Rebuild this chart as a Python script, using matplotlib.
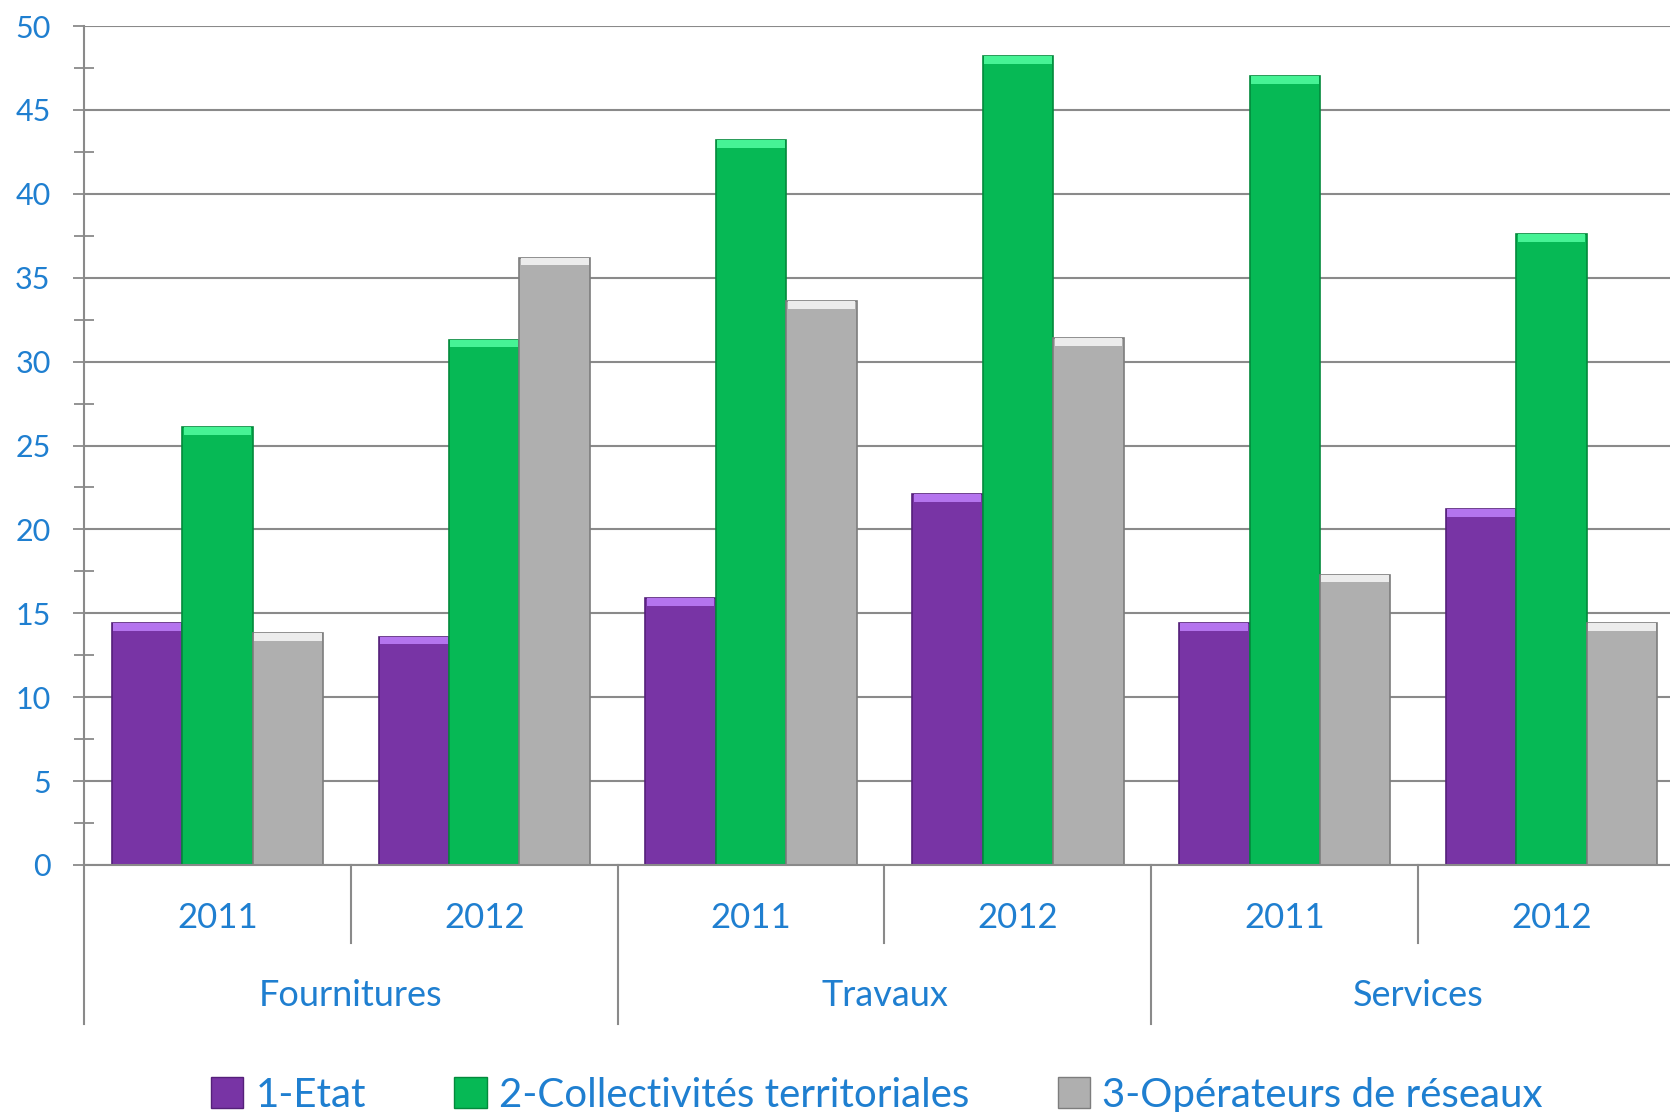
import numpy as np
import matplotlib
matplotlib.use("Agg")
import matplotlib.pyplot as plt
import matplotlib.transforms as mtransforms
from matplotlib.patches import Patch

plt.rcParams['font.family'] = ['Lato', 'DejaVu Sans']

# data
categories = ["Fournitures", "Travaux", "Services"]
years = ["2011", "2012"]
series = ["1-Etat", "2-Collectivités territoriales", "3-Opérateurs de réseaux"]
etat = [14.4, 13.6, 15.9, 22.1, 14.4, 21.2]
collectivites = [26.1, 31.3, 43.2, 48.2, 47.0, 37.6]
operateurs = [13.8, 36.2, 33.6, 31.4, 17.3, 14.4]

colors = ["#7834a5", "#06b955", "#afafaf"]
tops = ["#b474ee", "#46f395", "#ececec"]
edges = ["#55207a", "#038a3c", "#7d7d7d"]
blue = "#1f7fd0"
grey = "#8a8a8a"

fig = plt.figure(figsize=(16.7, 11.12), dpi=100)
ax = fig.add_axes([84 / 1670, 1 - 865 / 1112, (1685 - 84) / 1670, (865 - 26) / 1112])

x = np.arange(len(etat))
w = 0.264
for k, vals in enumerate([etat, collectivites, operateurs]):
    xs = x + (k - 1) * w
    vals = np.array(vals)
    ax.bar(xs, vals, w, color=colors[k], edgecolor=edges[k], linewidth=1.2, zorder=3)
    # bevel highlight on top
    ax.bar(xs, 0.45, w * 0.96, bottom=vals - 0.45, color=tops[k], linewidth=0, zorder=4)

ax.set_xlim(-0.5, 5.5)
ax.set_ylim(0, 50)
ax.set_yticks(np.arange(0, 51, 5))
ax.set_yticks(np.arange(2.5, 50, 5), minor=True)
ax.yaxis.grid(True, which='major', color=grey, linewidth=1.5, zorder=0)
ax.set_axisbelow(True)
ax.tick_params(axis='y', which='major', direction='out', length=8, width=1.3,
               color=grey, labelcolor=blue, labelsize=22, pad=16)
ax.tick_params(axis='y', which='minor', direction='inout', length=14, width=1.3, color=grey)
ax.set_xticks([])
for s in ["top", "right"]:
    ax.spines[s].set_visible(False)
ax.spines["left"].set_visible(False)
ax.spines["bottom"].set_color(grey)
ax.spines["bottom"].set_linewidth(1.5)
ax.spines["bottom"].set_zorder(5)

# hierarchical x axis
trans = mtransforms.blended_transform_factory(ax.transData, ax.transAxes)
ax.plot([-0.5, -0.5], [-0.19, 1.0], transform=trans, color=grey, lw=1.5, clip_on=False, zorder=6)
for b in [0.5, 1.5, 2.5, 3.5, 4.5]:
    low = -0.19 if b in (1.5, 3.5) else -0.093
    ax.plot([b, b], [0, low], transform=trans, color=grey, lw=1.5, clip_on=False)
for i in x:
    ax.text(i, -0.063, years[i % 2], transform=trans, ha='center', va='center',
            color=blue, fontsize=25)
for j, c in enumerate(categories):
    ax.text(2 * j + 0.5, -0.156, c, transform=trans, ha='center', va='center',
            color=blue, fontsize=26)

handles = [Patch(facecolor=colors[k], edgecolor=edges[k], label=series[k]) for k in range(3)]
fig.legend(handles=handles, loc='center', bbox_to_anchor=(0.525, 0.015), ncol=3,
           frameon=False, fontsize=29, labelcolor=blue, handlelength=0.8,
           handleheight=0.8, handletextpad=0.3, columnspacing=2.2)

fig.savefig("out.png", dpi=100)
